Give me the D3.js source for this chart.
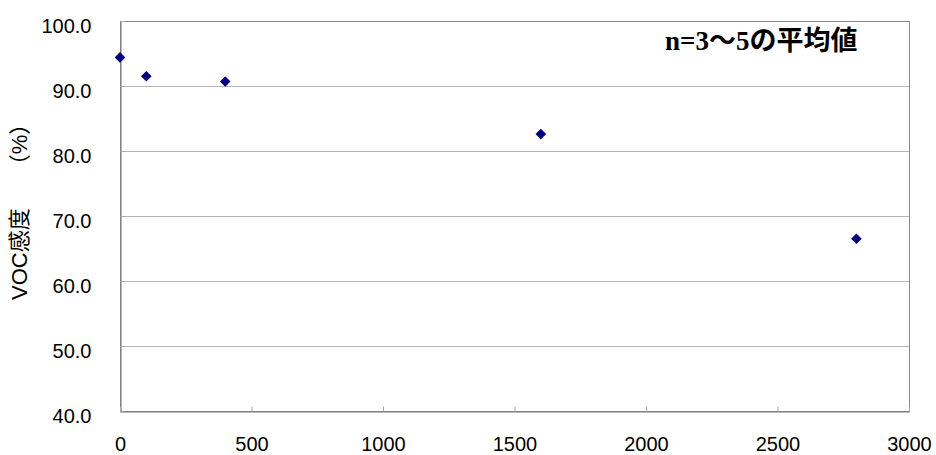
<!DOCTYPE html>
<html>
<head>
<meta charset="utf-8">
<script src="https://cdn.jsdelivr.net/npm/d3@7"></script>
<style>
  html, body { margin: 0; padding: 0; background: #fff; }
  svg { display: block; }
</style>
</head>
<body>
<svg id="chart" width="936" height="455"></svg>
<script>
// Exposure amounts and measured VOC sensitivity (mean of n=3–5)
const exposure = [0, 100, 400, 1600, 2800];
const sensitivity = [94.4, 91.5, 90.7, 82.6, 66.5];
const xTicks = [0, 500, 1000, 1500, 2000, 2500, 3000];
const yTicks = [40, 50, 60, 70, 80, 90, 100];
const yLabelName = "VOC感度";
const yLabelUnit = "（%）";
const note = "n=3～5の平均値";

const svg = d3.select("#chart");
const margin = { left: 120, top: 21, right: 27, bottom: 44 };
const W = 936, H = 455;
const x = d3.scaleLinear().domain([0, 3000]).range([margin.left, W - margin.right]);
const y = d3.scaleLinear().domain([40, 100]).range([H - margin.bottom, margin.top]);

const tickFont = "'Liberation Sans', Arial, sans-serif";

// horizontal gridlines
svg.append("g").selectAll("line").data(yTicks.filter(d => d > 40 && d < 100)).join("line")
  .attr("x1", x(0)).attr("x2", x(3000))
  .attr("y1", d => Math.round(y(d)) + 0.5).attr("y2", d => Math.round(y(d)) + 0.5)
  .attr("stroke", "#b4b4b4").attr("stroke-width", 1);

// plot frame
svg.append("rect")
  .attr("x", Math.round(x(0)) + 0.5).attr("y", Math.round(y(100)) + 0.5)
  .attr("width", Math.round(x(3000) - x(0))).attr("height", Math.round(y(40) - y(100)))
  .attr("fill", "none").attr("stroke", "#8a8a8a").attr("stroke-width", 1);

// axes
const yAxis = d3.axisLeft(y).tickValues(yTicks).tickFormat(d3.format(".1f")).tickSize(-5).tickPadding(29);
const gy = svg.append("g").attr("transform", `translate(${Math.round(x(0)) + 0.5},0)`).call(yAxis);
gy.select(".domain").attr("stroke", "#777");
gy.selectAll(".tick line").attr("stroke", "#aaa");
gy.selectAll(".tick text").attr("font-family", tickFont).attr("font-size", 20).attr("fill", "#000")
  .attr("dy", "0.55em");

const xAxis = d3.axisBottom(x).tickValues(xTicks).tickFormat(d3.format("d")).tickSize(-5).tickPadding(25);
const gx = svg.append("g").attr("transform", `translate(0,${Math.round(y(40)) + 0.5})`).call(xAxis);
gx.select(".domain").attr("stroke", "#777");
gx.selectAll(".tick line").attr("stroke", "#aaa");
gx.selectAll(".tick text").attr("font-family", tickFont).attr("font-size", 20).attr("fill", "#000");

// y axis title: name and unit separated by a wide gap
const yTitle = svg.append("text")
  .attr("transform", `translate(27, 300) rotate(-90)`)
  .attr("text-anchor", "start")
  .attr("font-family", "'Liberation Sans', 'Noto Sans CJK JP', sans-serif")
  .attr("font-size", 22)
  .attr("fill", "#000");
yTitle.append("tspan").text(yLabelName);
yTitle.append("tspan").attr("dx", 32).text(yLabelUnit);

// annotation
svg.append("text")
  .attr("x", 665).attr("y", 50)
  .attr("font-family", "'Liberation Serif', 'Noto Sans CJK JP', serif")
  .attr("font-weight", "bold")
  .attr("font-size", 27)
  .attr("fill", "#000")
  .text(note);

// diamond markers
const diamond = d3.symbol().type(d3.symbolDiamond2).size(72);
svg.append("g").selectAll("path").data(exposure.map((e, i) => [e, sensitivity[i]])).join("path")
  .attr("d", diamond)
  .attr("transform", d => `translate(${x(d[0])},${y(d[1])})`)
  .attr("fill", "#000080");
</script>
</body>
</html>
